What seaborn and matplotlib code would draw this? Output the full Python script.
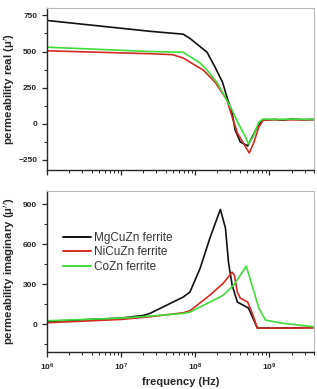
#!/usr/bin/env python3
"""Complex permeability spectra of three ferrites."""

import matplotlib
matplotlib.use("Agg")
import matplotlib.pyplot as plt
import matplotlib.ticker as mticker
import pandas as pd
import seaborn as sns

SERIES = ["MgCuZn ferrite", "NiCuZn ferrite", "CoZn ferrite"]
COLORS = ["#111111", "#d42a22", "#3fdc3a"]

# real part
mg_real_f = [1e6, 2.45e7, 6.9e7, 8.5e7, 1.45e8, 1.86e8, 2.34e8, 2.69e8, 3.16e8, 3.47e8, 4.07e8, 5.13e8,
             5.62e8, 6.92e8, 8.13e8, 1.2e9, 1.5e9, 2e9, 2.8e9, 4e9]
mg_real_v = [715, 640, 620, 591, 495, 391, 288, 184, 74, -43, -126, -153,
             -112, -22, 26, 30, 24, 33, 28, 30]
ni_real_f = [1e6, 2.45e7, 5e7, 6.9e7, 1.29e8, 1.86e8, 2.69e8, 3.16e8, 3.72e8, 4.47e8, 5.37e8, 6.17e8,
             7.24e8, 8.32e8, 1.2e9, 2e9, 4e9]
ni_real_v = [505, 485, 478, 455, 371, 288, 164, 47, -64, -133, -202, -133,
             -22, 26, 28, 27, 28]
co_real_f = [1e6, 2.45e7, 6.9e7, 1.17e8, 1.45e8, 2.0e8, 2.57e8, 3.16e8, 3.8e8, 4.79e8, 5.25e8, 6.03e8,
             7.24e8, 8.32e8, 1.2e9, 2e9, 4e9]
co_real_v = [530, 500, 495, 420, 371, 281, 178, 95, 5, -91, -140, -91,
             12, 33, 30, 32, 30]

# imaginary part
mg_imag_f = [1e6, 1e7, 2e7, 2.45e7, 6.9e7, 8.5e7, 1.17e8, 1.58e8, 2.19e8, 2.57e8, 2.82e8, 3.16e8,
             3.72e8, 4.47e8, 5.25e8, 6.03e8, 6.92e8, 1.45e9, 4e9]
mg_imag_v = [20, 45, 65, 80, 203, 240, 420, 645, 862, 720, 465, 292,
             165, 142, 120, 45, -30, -30, -25]
ni_imag_f = [1e6, 1e7, 2.45e7, 6.9e7, 8.5e7, 1.58e8, 2.4e8, 3.16e8, 3.39e8, 3.72e8, 4.07e8, 5.13e8,
             6.03e8, 6.92e8, 1.45e9, 4e9]
ni_imag_v = [10, 35, 55, 85, 100, 217, 307, 390, 367, 240, 195, 165,
             68, -30, -30, -28]
co_imag_f = [1e6, 1e7, 2.45e7, 6.9e7, 8.5e7, 1.58e8, 2.4e8, 3.31e8, 4.07e8, 4.9e8, 6.03e8, 7.24e8,
             8.9e8, 1.45e9, 4e9]
co_imag_v = [25, 45, 60, 80, 90, 165, 217, 292, 367, 435, 270, 120,
             30, 8, -20]


def to_frame(parts):
    frames = []
    for name, f, v in parts:
        frames.append(pd.DataFrame({"freq": f, "value": v, "sample": name}))
    return pd.concat(frames, ignore_index=True)


real_df = to_frame([(SERIES[0], mg_real_f, mg_real_v),
                    (SERIES[1], ni_real_f, ni_real_v),
                    (SERIES[2], co_real_f, co_real_v)])
imag_df = to_frame([(SERIES[0], mg_imag_f, mg_imag_v),
                    (SERIES[1], ni_imag_f, ni_imag_v),
                    (SERIES[2], co_imag_f, co_imag_v)])

sns.set_theme(style="ticks")
plt.rcParams["font.family"] = ["Liberation Sans", "DejaVu Sans"]
plt.rcParams["mathtext.fontset"] = "dejavusans"

fig = plt.figure(figsize=(3.17, 3.89), dpi=100)
ax1 = fig.add_axes([0.148, 0.563, 0.842, 0.416])
ax2 = fig.add_axes([0.148, 0.095, 0.842, 0.414])
palette = dict(zip(SERIES, COLORS))

for ax, df in [(ax1, real_df), (ax2, imag_df)]:
    sns.lineplot(data=df, x="freq", y="value", hue="sample", hue_order=SERIES,
                 palette=palette, estimator=None, sort=False, linewidth=1.2,
                 legend=(ax is ax2), ax=ax)
    ax.set_xscale("log")
    ax.set_xlim(1e6, 4e9)
    ax.xaxis.set_major_locator(mticker.LogLocator(base=10))
    ax.xaxis.set_minor_locator(mticker.LogLocator(base=10, subs=range(2, 10)))
    for side in ["top", "right"]:
        ax.spines[side].set_color("#bbbbbb")
        ax.spines[side].set_linewidth(0.8)
    for side in ["left", "bottom"]:
        ax.spines[side].set_linewidth(1.0)
    ax.tick_params(which="major", length=3.5, width=0.9, labelsize=6, direction="out")
    ax.tick_params(which="minor", length=2, width=0.7, direction="out")
    ax.set_xlabel("")

ax1.set_ylim(-320, 800)
ax1.yaxis.set_major_locator(mticker.FixedLocator([-250, 0, 250, 500, 750]))
ax1.yaxis.set_minor_locator(mticker.MultipleLocator(125))
ax1.tick_params(axis="x", which="both", labelbottom=False)
ax1.set_ylabel("permeability real (μ$^{\\prime}$)", fontsize=8.2, fontweight="bold")
ax1.yaxis.set_label_coords(-0.112, 0.5)

ax2.set_ylim(-210, 1000)
ax2.yaxis.set_major_locator(mticker.FixedLocator([0, 300, 600, 900]))
ax2.yaxis.set_minor_locator(mticker.MultipleLocator(150))
ax2.set_ylabel("permeability imaginary (μ$^{\\prime\\prime}$)", fontsize=8.2, fontweight="bold")
ax2.yaxis.set_label_coords(-0.112, 0.5)
ax2.set_xlabel("frequency (Hz)", fontsize=8, fontweight="bold", labelpad=3)
for ax in (ax1, ax2):
    for lab in ax.get_yticklabels() + ax.get_xticklabels():
        lab.set_fontweight("bold")

leg = ax2.legend(loc="upper left", bbox_to_anchor=(0.042, 0.777), frameon=False,
                 fontsize=8.5, handlelength=2.4, handletextpad=0.2, labelspacing=0.24,
                 borderaxespad=0)
for line in leg.get_lines():
    line.set_linewidth(1.4)
for txt in leg.get_texts():
    txt.set_color("#333333")

fig.savefig("out.png", dpi=100)
